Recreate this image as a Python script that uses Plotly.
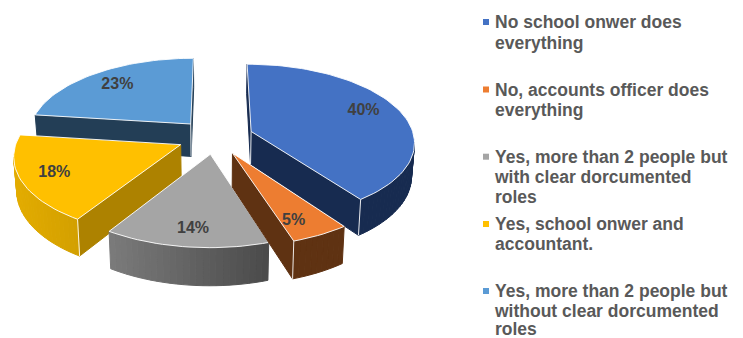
import math
import plotly.graph_objects as go

# Survey answers and their shares
category_lines = [
    ["No school onwer does", "everything"],
    ["No, accounts officer does", "everything"],
    ["Yes, more than 2 people but", "with clear dorcumented", "roles"],
    ["Yes, school onwer and", "accountant."],
    ["Yes, more than 2 people but", "without clear dorcumented", "roles"],
]
values = [40, 5, 14, 18, 23]

top_colors = ["#4472C4", "#ED7D31", "#A5A5A5", "#FFC000", "#5B9BD5"]
radial_wall_colors = ["#172B50", "#5F3212", "#6A6A6A", "#AD8200", "#233E56"]
arc_left_colors = ["#172B50", "#5F3212", "#7B7B7B", "#E3AC00", "#233E56"]
arc_right_colors = ["#172B50", "#5F3212", "#4A4A4A", "#B88B00", "#233E56"]

# Per-slice explosion, label distance and label angle offset
pull = [0.235, 0.23, 0.22, 0.23, 0.23]
label_radius = [0.78, 0.82, 0.83, 0.80, 0.76]
label_shift = [-3, 4, -1, 0, 0]

# Back-to-front painting order
paint_order = [4, 0, 3, 2, 1]

# Tilted-pie projection, in page pixels
CX, CY = 215, 137
RX, RY = 163, 77
ROTATION = 0
PERSPECTIVE = 0.125
DEPTH = 33
FONT = "Liberation Sans, Arial, sans-serif"

# Legend rows
legend_x = 486
legend_text_x = 495
legend_row_y = [[24, 45], [91.5, 112], [158.7, 179, 199], [226, 246], [293, 312.5, 331]]
legend_swatch_y = [22, 89.5, 156.7, 224, 291]


def project(X, Y, lower=False):
    s = 1 / (1 + PERSPECTIVE * Y)
    x = CX + RX * X * s
    y = CY - RY * Y * s
    if lower:
        x = CX + (x - CX) * 0.985
        y += DEPTH / (1 + 0.11 * Y)
    return x, y


def direction(deg):
    a = math.radians(deg + ROTATION)
    return math.sin(a), math.cos(a)


def blend(c1, c2, t):
    a = [int(c1[i:i + 2], 16) for i in (1, 3, 5)]
    b = [int(c2[i:i + 2], 16) for i in (1, 3, 5)]
    return "rgb({},{},{})".format(*[round(p + (q - p) * t) for p, q in zip(a, b)])


def polygon(points, fill, line=None, width=1):
    xs, ys = zip(*(points + points[:1]))
    return go.Scatter(
        x=xs, y=ys, mode="lines", fill="toself", fillcolor=fill,
        line=dict(color=line or fill, width=width),
        hoverinfo="skip", showlegend=False,
    )


def segment(p, q):
    return go.Scatter(
        x=[p[0], q[0]], y=[p[1], q[1]], mode="lines",
        line=dict(color="rgba(255,255,255,0.9)", width=1),
        hoverinfo="skip", showlegend=False,
    )


total = sum(values)
slices = []
start = 0.0
for v in values:
    sweep = 360 * v / total
    slices.append((start, start + sweep))
    start += sweep

fig = go.Figure()
label_x, label_y, label_text = [], [], []

for i in paint_order:
    a0, a1 = slices[i]
    mid = (a0 + a1) / 2
    mx, my = direction(mid)
    ox, oy = pull[i] * mx, pull[i] * my

    steps = max(6, int((a1 - a0) / 2))
    rim = []
    for k in range(steps + 1):
        dx, dy = direction(a0 + (a1 - a0) * k / steps)
        rim.append((ox + dx, oy + dy))
    ring = [(ox, oy)] + rim  # apex followed by the outer rim

    top = [project(*p) for p in ring]
    low = [project(*p, lower=True) for p in ring]
    n = len(ring)
    x_min = min(p[0] for p in top)
    x_max = max(p[0] for p in top)

    # Side walls: only edges running right-to-left face the viewer
    visible = []
    for k in range(n):
        j = (k + 1) % n
        show = top[j][0] < top[k][0]
        visible.append(show)
        if not show:
            continue
        radial = k == 0 or j == 0
        if radial:
            color = radial_wall_colors[i]
        else:
            t = ((top[k][0] + top[j][0]) / 2 - x_min) / max(x_max - x_min, 1)
            color = blend(arc_left_colors[i], arc_right_colors[i], t)
        fig.add_trace(polygon([top[k], top[j], low[j], low[k]], color))

    # Vertical highlight where two visible walls meet at a sharp corner
    for k in (0, 1, n - 1):
        if visible[k] and visible[k - 1]:
            fig.add_trace(segment(top[k], low[k]))

    fig.add_trace(polygon(top, top_colors[i], line="rgba(255,255,255,0.9)", width=1))

    lx_dir, ly_dir = direction(mid + label_shift[i])
    lx, ly = project(ox + label_radius[i] * lx_dir, oy + label_radius[i] * ly_dir)
    label_x.append(lx)
    label_y.append(ly)
    label_text.append(f"{values[i]}%")

fig.add_trace(go.Scatter(
    x=label_x, y=label_y, text=label_text, mode="text",
    textfont=dict(family=FONT, size=16, color="#404040", weight="bold"),
    hoverinfo="skip", showlegend=False,
))

# Legend swatches and wrapped labels
fig.add_trace(go.Scatter(
    x=[legend_x] * len(values), y=legend_swatch_y, mode="markers",
    marker=dict(symbol="square", size=6, color=top_colors),
    hoverinfo="skip", showlegend=False,
))
legend_xs, legend_ys, legend_lines = [], [], []
for lines, rows in zip(category_lines, legend_row_y):
    for line, y in zip(lines, rows):
        legend_xs.append(legend_text_x)
        legend_ys.append(y)
        legend_lines.append(line)
fig.add_trace(go.Scatter(
    x=legend_xs, y=legend_ys, text=legend_lines, mode="text",
    textposition="middle right",
    textfont=dict(family=FONT, size=17.5, color="#595959", weight="bold"),
    hoverinfo="skip", showlegend=False, cliponaxis=False,
))

fig.update_layout(
    width=743, height=338,
    margin=dict(l=0, r=0, t=0, b=0),
    paper_bgcolor="white", plot_bgcolor="white",
    showlegend=False,
    xaxis=dict(range=[0, 743], visible=False, fixedrange=True),
    yaxis=dict(range=[338, 0], visible=False, fixedrange=True),
)
fig.write_html("out.html", config={"displayModeBar": False})
